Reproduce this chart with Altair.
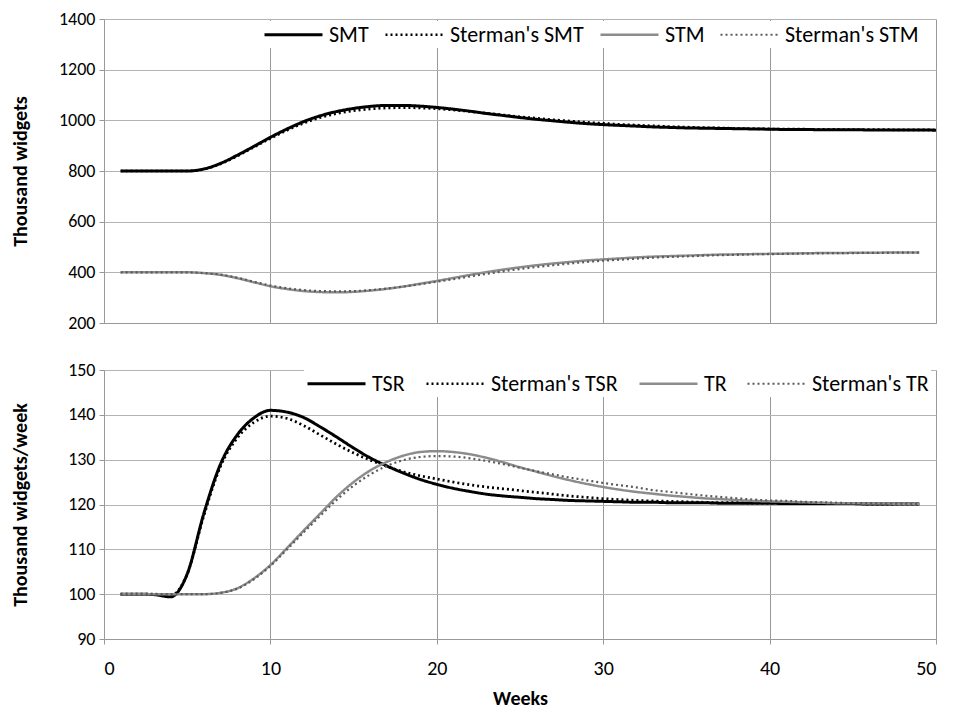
import altair as alt
import pandas as pd

# ---------------- data ----------------
weeks_50 = list(range(1, 51))
weeks_49 = list(range(1, 50))

smt = [800, 800, 800, 800, 800, 808, 830, 862, 897, 933,
       966, 995, 1018, 1035, 1047, 1055, 1059, 1059, 1056, 1051,
       1044, 1036, 1027, 1019, 1011, 1004, 998, 992, 987, 983,
       980, 977, 974, 972, 970, 969, 968, 967, 966, 965,
       964, 964, 963, 963, 963, 962, 962, 962, 962, 961]
sterman_smt = [800, 800, 800, 800, 800, 807, 828, 859, 894, 929,
               961, 989, 1011, 1027, 1038, 1045, 1049, 1050, 1049, 1046,
               1041, 1035, 1028, 1021, 1014, 1008, 1002, 997, 992, 988,
               984, 981, 978, 975, 973, 971, 970, 968, 967, 966,
               965, 965, 964, 964, 963, 963, 963, 962, 962, 962]
stm = [400, 400, 400, 400, 400, 397, 390, 377, 361, 345,
       334, 326, 322, 321, 323, 328, 335, 344, 355, 366,
       378, 390, 401, 411, 420, 428, 435, 441, 447, 451,
       455, 459, 462, 464, 466, 468, 470, 471, 472, 473,
       474, 475, 476, 476, 477, 477, 478, 478, 478]
sterman_stm = [400, 400, 400, 400, 400, 397, 391, 379, 363, 348,
               337, 330, 326, 325, 326, 330, 336, 344, 353, 363,
               373, 384, 394, 404, 413, 421, 428, 435, 441, 446,
               450, 454, 458, 461, 463, 466, 468, 469, 471, 472,
               473, 474, 475, 476, 476, 477, 477, 478, 478]

tsr = [100, 100, 99.9, 99.4, 104.5, 118, 129, 135.5, 139.3, 141,
       140.6, 139.4, 137.3, 135, 132.6, 130.4, 128.6, 127, 125.6, 124.5,
       123.6, 122.9, 122.3, 121.9, 121.6, 121.3, 121.1, 120.9, 120.8, 120.7,
       120.6, 120.5, 120.5, 120.4, 120.4, 120.4, 120.3, 120.3, 120.3, 120.3,
       120.2, 120.2, 120.2, 120.2, 120.2, 120.1, 120.1, 120.1, 120.1]
sterman_tsr = [100, 100, 100, 99.7, 104.5, 117.5, 128.5, 134.8, 138.3, 139.7,
               139.2, 137.6, 135.5, 133.4, 131.5, 129.9, 128.5, 127.3, 126.4, 125.7,
               125, 124.4, 123.9, 123.5, 123.1, 122.7, 122.3, 121.9, 121.6, 121.3,
               121.1, 120.9, 120.8, 120.7, 120.6, 120.5, 120.4, 120.4, 120.3, 120.3,
               120.3, 120.2, 120.2, 120.2, 120.2, 120.1, 120.1, 120.1, 120.1]
tr = [100, 100, 100, 100, 100, 100, 100.3, 101.3, 103.5, 106.5,
      110.3, 114.2, 118, 121.8, 125, 127.6, 129.5, 130.9, 131.7, 131.9,
      131.7, 131.2, 130.4, 129.4, 128.3, 127.3, 126.3, 125.4, 124.6, 123.9,
      123.3, 122.8, 122.4, 122, 121.7, 121.4, 121.2, 121, 120.8, 120.7,
      120.6, 120.5, 120.4, 120.3, 120.3, 120.2, 120.2, 120.1, 120.1]
sterman_tr = [100, 100, 100, 100, 100, 100, 100.3, 101.2, 103.3, 106.3,
              110, 113.8, 117.5, 121.1, 124.2, 126.7, 128.6, 129.9, 130.6, 130.8,
              130.7, 130.3, 129.7, 129, 128.2, 127.4, 126.7, 126, 125.4, 124.8,
              124.3, 123.8, 123.2, 122.8, 122.4, 122, 121.7, 121.4, 121.1, 120.9,
              120.8, 120.6, 120.5, 120.4, 120.3, 120.3, 120.2, 120.2, 120.1]

x_ticks = [0, 10, 20, 30, 40, 50]
top_ticks = [200, 400, 600, 800, 1000, 1200, 1400]
bottom_ticks = [90, 100, 110, 120, 130, 140, 150]

FONT = "Carlito, Calibri, Lato, sans-serif"
BLACK = "#000000"
GRAY = "#8c8c8c"
DGRAY = "#5a5a5a"
SOLID = [1, 0]
DOT = [2, 3]


def make_panel(entries, y_dom, y_vals, y_title, height, bottom, leg_x, leg_y, leg_pad):
    names = [e[0] for e in entries]
    colors = [e[3] for e in entries]
    dashes = [e[4] for e in entries]
    widths = [e[5] for e in entries]

    def leg():
        return alt.Legend(title=None, orient="none", legendX=leg_x, legendY=leg_y,
                          direction="horizontal", columnPadding=leg_pad)

    color = alt.Color("series:N", scale=alt.Scale(domain=names, range=colors), legend=leg())
    dash = alt.StrokeDash("series:N", scale=alt.Scale(domain=names, range=dashes), legend=leg())
    sw = alt.StrokeWidth("series:N", scale=alt.Scale(domain=names, range=widths), legend=leg())
    if bottom:
        xaxis = alt.Axis(values=x_ticks, title="Weeks", grid=True, gridColor="#999999",
                         domainColor="#999999", tickColor="#999999", tickSize=5,
                         labelFont=FONT, labelFontSize=20, labelColor=BLACK, labelPadding=14,
                         titleFont=FONT, titleFontSize=20, titleFontWeight="bold",
                         titleColor=BLACK, titlePadding=10)
    else:
        xaxis = alt.Axis(values=x_ticks, title=None, labels=False, ticks=False, grid=True,
                         gridColor="#999999", domainColor="#999999")
    yaxis = alt.Axis(values=y_vals, format="d", title=y_title, grid=True, gridColor="#b4b4b4",
                     domainColor="#999999", tickColor="#999999", tickSize=5,
                     labelFont=FONT, labelFontSize=18, labelColor=BLACK, labelPadding=4,
                     titleFont=FONT, titleFontSize=20, titleFontWeight="bold",
                     titleColor=BLACK, titleX=-74, titleY=height / 2,
                     titleAlign="center", titleBaseline="bottom", titleAngle=270)
    layers = []
    for name, xs, ys, *_ in entries:
        df = pd.DataFrame({"week": xs, "value": ys, "series": [name] * len(xs)})
        layers.append(
            alt.Chart(df).mark_line(interpolate="monotone").encode(
                x=alt.X("week:Q", scale=alt.Scale(domain=[0, 50], nice=False, zero=False),
                        axis=xaxis),
                y=alt.Y("value:Q", scale=alt.Scale(domain=y_dom, nice=False, zero=False),
                        axis=yaxis),
                color=color, strokeDash=dash, strokeWidth=sw,
            )
        )
    return alt.layer(*layers).properties(width=832, height=height)


top = make_panel(
    [("SMT", weeks_50, smt, BLACK, SOLID, 3),
     ("Sterman's SMT", weeks_50, sterman_smt, BLACK, DOT, 2.2),
     ("STM", weeks_49, stm, GRAY, SOLID, 3),
     ("Sterman's STM", weeks_49, sterman_stm, DGRAY, DOT, 2.2)],
    [200, 1400], top_ticks, "Thousand widgets", 304, False, 157, 2, 11)

bottom = make_panel(
    [("TSR", weeks_49, tsr, BLACK, SOLID, 3),
     ("Sterman's TSR", weeks_49, sterman_tsr, BLACK, DOT, 2.2),
     ("TR", weeks_49, tr, GRAY, SOLID, 3),
     ("Sterman's TR", weeks_49, sterman_tr, DGRAY, DOT, 2.2)],
    [90, 150], bottom_ticks, "Thousand widgets/week", 269, True, 200, 0, 16)

chart = (
    alt.vconcat(top, bottom, spacing=29)
    .resolve_scale(color="independent", strokeDash="independent", strokeWidth="independent")
    .resolve_legend(color="independent", strokeDash="independent", strokeWidth="independent")
    .properties(padding={"left": 2, "top": 2, "right": 2, "bottom": 4})
    .configure_view(stroke=None)
    .configure_legend(fillColor="white", padding=2, symbolType="M-1,0H4.8", symbolSize=400,
                      labelFont=FONT, labelFontSize=22, labelColor=BLACK, labelOffset=43,
                      labelLimit=400)
)

chart.save("out.html", embed_options={"renderer": "svg", "actions": False})
